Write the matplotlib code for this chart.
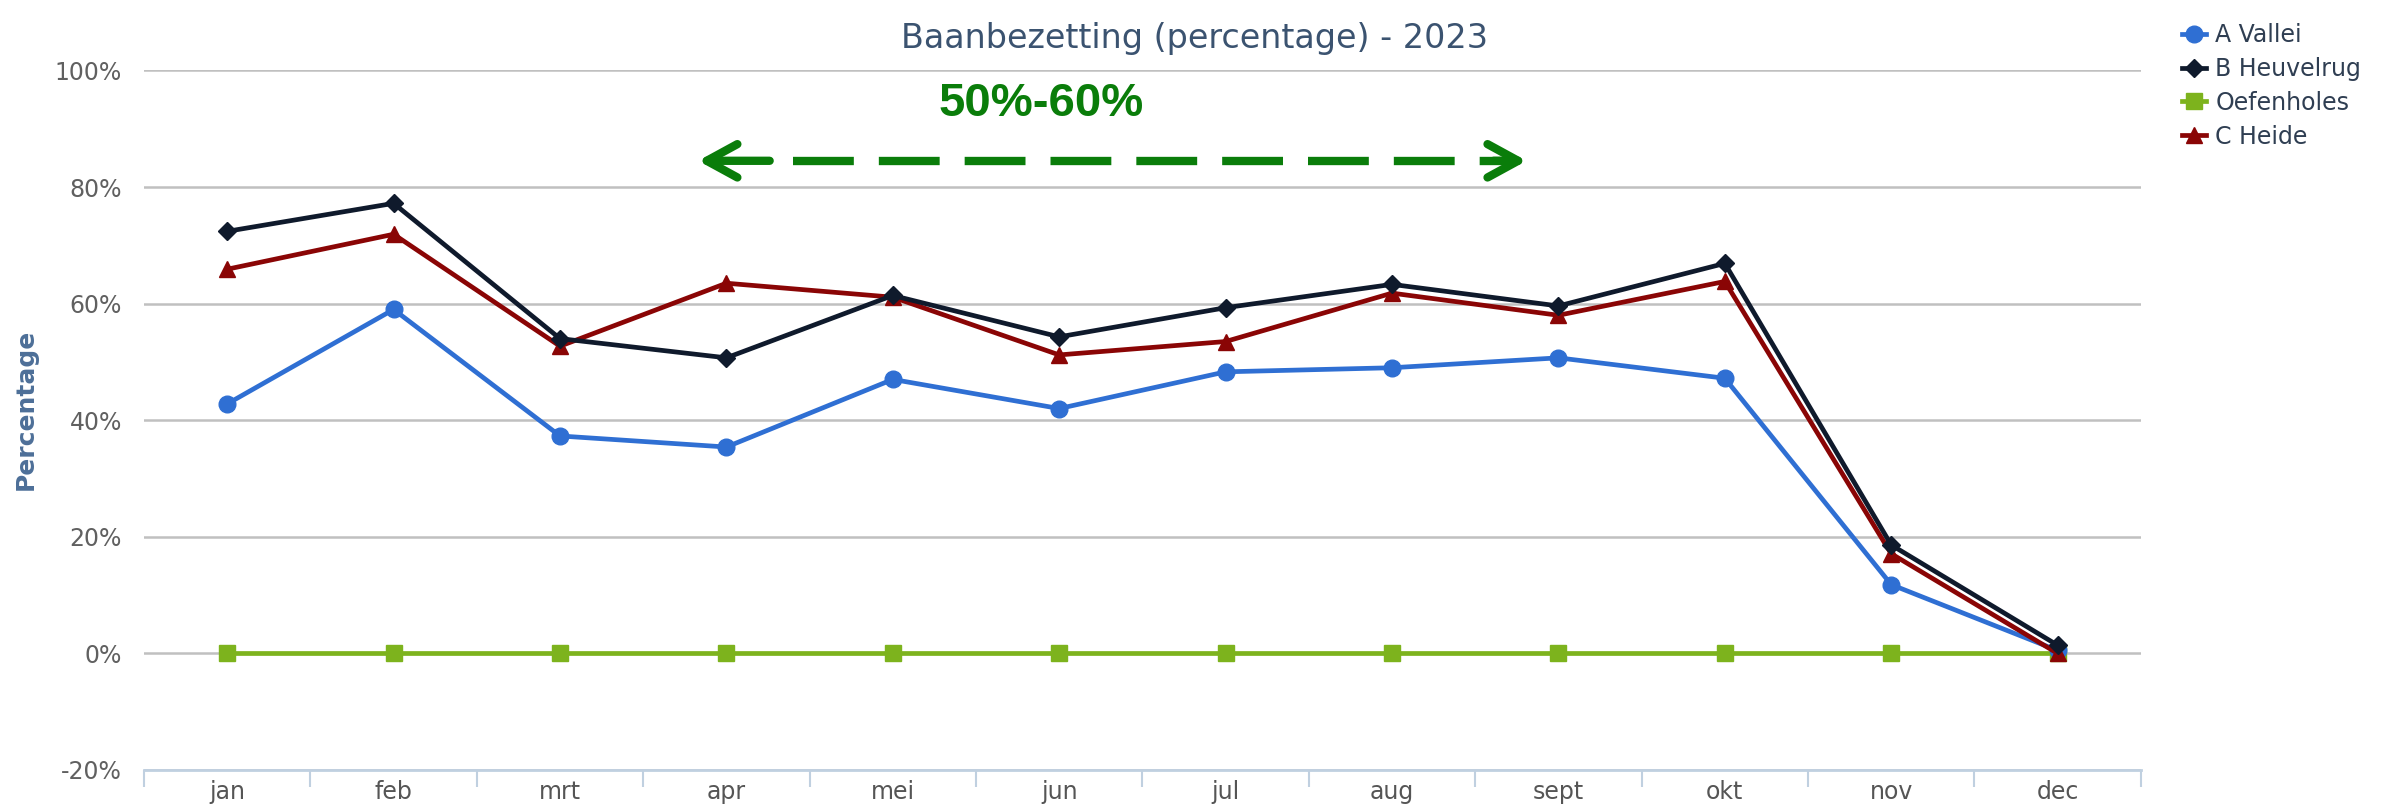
import matplotlib
matplotlib.use("Agg")
import matplotlib.pyplot as plt
from matplotlib.ticker import FuncFormatter, FixedLocator
import numpy as np

months = ["jan", "feb", "mrt", "apr", "mei", "jun", "jul", "aug", "sept", "okt", "nov", "dec"]
a_vallei = [42.8, 59.0, 37.3, 35.4, 47.0, 42.0, 48.3, 49.0, 50.7, 47.2, 11.8, 0.5]
b_heuvelrug = [72.4, 77.2, 54.0, 50.7, 61.4, 54.3, 59.3, 63.3, 59.6, 66.9, 18.6, 1.4]
oefenholes = [0, 0, 0, 0, 0, 0, 0, 0, 0, 0, 0, 0]
c_heide = [65.9, 71.9, 52.7, 63.5, 61.1, 51.2, 53.5, 61.8, 58.0, 63.8, 17.1, 0.0]
yticks = [-20, 0, 20, 40, 60, 80, 100]
band_label = "50%-60%"

plt.rcParams['font.family'] = ['DejaVu Sans']

fig = plt.figure(figsize=(24, 8.05), dpi=100)
ax = fig.add_axes([0.06, 0.0435, 0.832, 0.869])

x = np.arange(len(months))
ax.plot(x, a_vallei, color="#2f6fd3", lw=3.4, marker="o", ms=12, label="A Vallei", zorder=4)
ax.plot(x, b_heuvelrug, color="#0f1a2c", lw=3.4, marker="D", ms=9, label="B Heuvelrug", zorder=5)
ax.plot(x, oefenholes, color="#7db31d", lw=3.4, marker="s", ms=11, label="Oefenholes", zorder=3)
ax.plot(x, c_heide, color="#8a0505", lw=3.4, marker="^", ms=12, label="C Heide", zorder=4)

ax.set_xlim(-0.5, len(months) - 0.5)
ax.set_ylim(-20, 100)
ax.yaxis.set_major_locator(FixedLocator(yticks))
ax.yaxis.set_major_formatter(FuncFormatter(lambda v, p: f"{v:.0f}%"))
ax.grid(axis="y", color="#c0c0c0", lw=1.8)
ax.set_axisbelow(True)

ax.set_xticks(x)
ax.set_xticklabels(months)
ax.set_xticks(np.arange(-0.5, len(months)), minor=True)
ax.tick_params(axis="x", which="major", length=0, pad=7, labelsize=17, labelcolor="#555555")
ax.tick_params(axis="x", which="minor", length=12, width=1.5, color="#c0d0e0", direction="out")
ax.tick_params(axis="y", length=0, pad=16, labelsize=17, labelcolor="#606060")

for s in ["top", "right", "left"]:
    ax.spines[s].set_visible(False)
ax.spines["bottom"].set_color("#c0d0e0")
ax.spines["bottom"].set_linewidth(2)

ax.set_ylabel("Percentage", fontsize=18, fontweight="bold", color="#4d6f98")
ax.yaxis.set_label_coords(-0.053, 0.515)
ax.set_title("Baanbezetting (percentage) - 2023", fontsize=24, color="#3b5370", pad=16, x=0.526)

# dashed green arrow with open chevron heads
green = "#0a7d0a"
y_arrow = 84.5
x_left, x_right = 2.83, 7.81
head = dict(arrowstyle="->,head_length=2.2,head_width=1.2", color=green, lw=6,
            shrinkA=0, shrinkB=0, capstyle="round", joinstyle="round")
ax.annotate("", xy=(x_left, y_arrow), xytext=(x_left + 0.43, y_arrow),
            arrowprops=head, zorder=7)
ax.annotate("", xy=(x_right, y_arrow), xytext=(x_right - 0.2, y_arrow),
            arrowprops=head, zorder=7)
ax.plot([x_left + 0.57, x_right - 0.1], [y_arrow, y_arrow], color=green, lw=6,
        dashes=(7.3, 3.0), dash_capstyle="butt", zorder=6)
ax.text(4.89, 94.3, band_label, ha="center", va="center", fontsize=34, fontweight="bold",
        color=green, family=["Liberation Sans Narrow", "Liberation Sans", "DejaVu Sans"])

leg = fig.legend(loc="upper left", bbox_to_anchor=(0.9004, 0.998), frameon=False,
                 fontsize=17, handlelength=1.0, labelspacing=0.42, handletextpad=0.4)
for t in leg.get_texts():
    t.set_color("#2f3e52")

fig.savefig("out.png", dpi=100)
